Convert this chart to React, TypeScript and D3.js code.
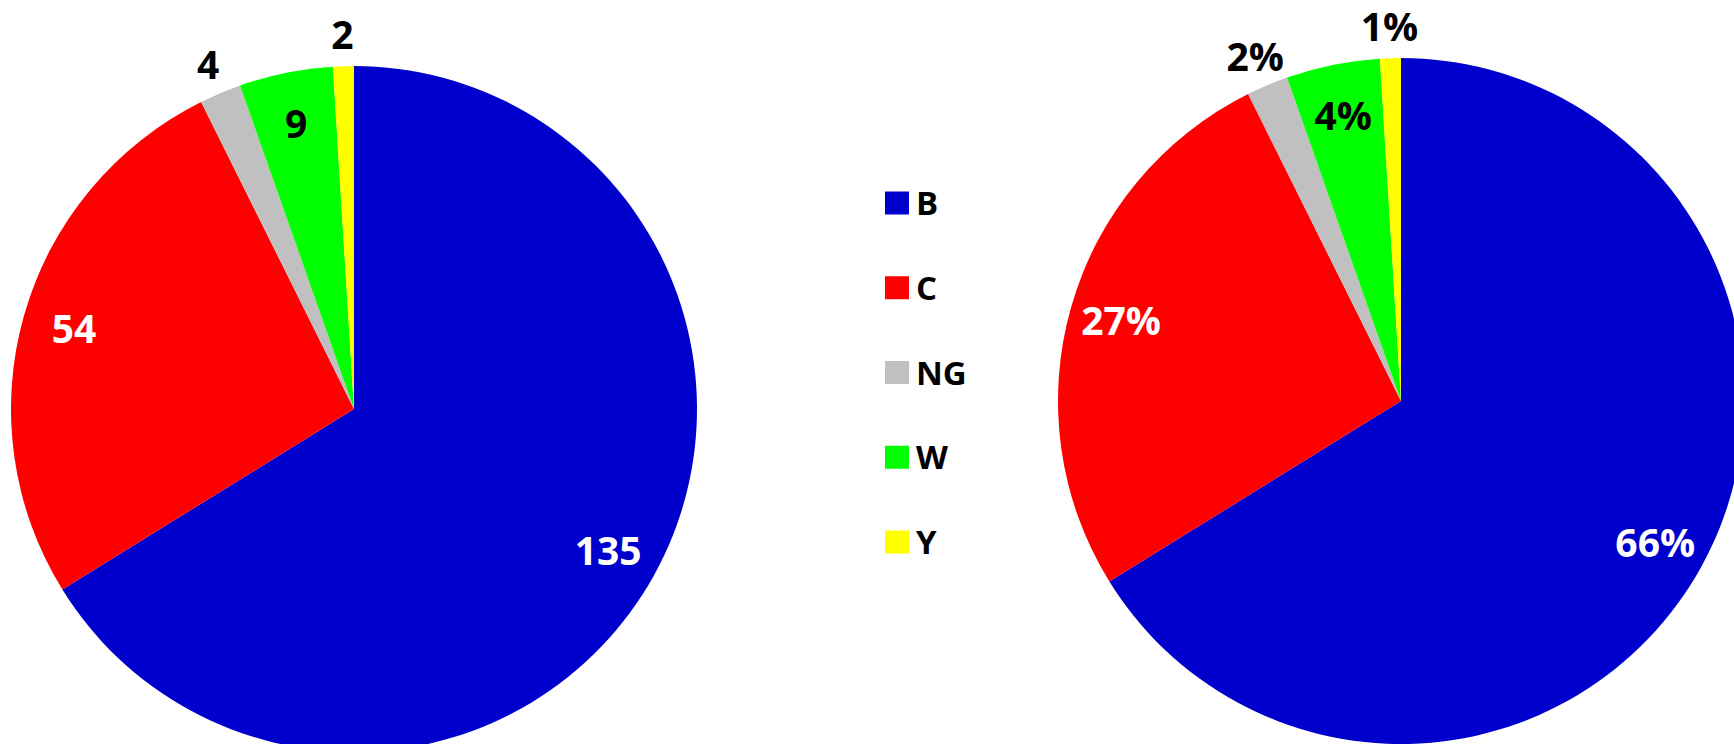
import * as d3 from "d3";
import { useEffect, useRef } from "react";

// data
const categories = ["B", "C", "NG", "W", "Y"];
const counts = [135, 54, 4, 9, 2];
const percents = [66, 27, 2, 4, 1]; // as printed on the right pie
const colors = ["#0000CC", "#FF0000", "#C0C0C0", "#00FF00", "#FFFF00"];
const labelFill = ["#ffffff", "#ffffff", "#000000", "#000000", "#000000"];
const outsideLabel = [false, false, true, false, true];

export default function App() {
  const svgRef = useRef<SVGSVGElement>(null);
  const width = 1734;
  const height = 744;

  useEffect(() => {
    const svg = d3.select(svgRef.current);
    svg.selectAll("*").remove();

    const radius = 343;
    const fontSize = 39;
    const capH = fontSize * 0.714;
    const font = "'Open Sans', 'Noto Sans', sans-serif";

    const rows = categories.map((c, i) => ({ c, v: counts[i], i }));
    const pie = d3
      .pie<{ c: string; v: number; i: number }>()
      .value((d) => d.v)
      .sort(null);
    const arc = d3.arc<d3.PieArcDatum<{ c: string; v: number; i: number }>>()
      .innerRadius(0)
      .outerRadius(radius);
    // label rings: inside end and outside end
    const inArc = d3.arc<d3.PieArcDatum<{ c: string; v: number; i: number }>>()
      .innerRadius(radius - 52)
      .outerRadius(radius - 52);
    const outArc = d3.arc<d3.PieArcDatum<{ c: string; v: number; i: number }>>()
      .innerRadius(radius + 31)
      .outerRadius(radius + 31);

    const drawPie = (cx: number, cy: number, label: (i: number) => string) => {
      const g = svg.append("g").attr("transform", `translate(${cx},${cy})`);
      const arcs = pie(rows);

      g.selectAll("path")
        .data(arcs)
        .enter()
        .append("path")
        .attr("d", arc)
        .attr("fill", (d) => colors[d.data.i]);

      g.selectAll("text")
        .data(arcs)
        .enter()
        .append("text")
        .attr("x", (d) => (outsideLabel[d.data.i] ? outArc : inArc).centroid(d)[0])
        .attr("y", (d) => (outsideLabel[d.data.i] ? outArc : inArc).centroid(d)[1] + capH / 2)
        .attr("text-anchor", "middle")
        .attr("font-family", font)
        .attr("font-weight", "bold")
        .attr("font-size", fontSize)
        .attr("fill", (d) => (outsideLabel[d.data.i] ? "#000" : labelFill[d.data.i]))
        .text((d) => label(d.data.i));
    };

    drawPie(354, 409, (i) => String(counts[i]));
    drawPie(1401, 401, (i) => `${percents[i]}%`);

    // legend
    const legend = svg.append("g").attr("transform", "translate(885,0)");
    const ly = d3.scalePoint<string>().domain(categories).range([203, 542]);
    categories.forEach((c, i) => {
      const y = ly(c)!;
      legend
        .append("rect")
        .attr("x", 0)
        .attr("y", y - 11.5)
        .attr("width", 24)
        .attr("height", 23)
        .attr("fill", colors[i]);
      legend
        .append("text")
        .attr("x", 31)
        .attr("y", y + 12)
        .attr("font-family", font)
        .attr("font-weight", "bold")
        .attr("font-size", 33)
        .attr("fill", "#000")
        .text(c);
    });

    return () => {};
  }, []);

  return (
    <div style={{ position: "absolute", left: 0, top: 0, width, height, overflow: "hidden", background: "#fff" }}>
      <svg ref={svgRef} width={width} height={height} viewBox={`0 0 ${width} ${height}`} style={{ display: "block" }}></svg>
    </div>
  );
}
